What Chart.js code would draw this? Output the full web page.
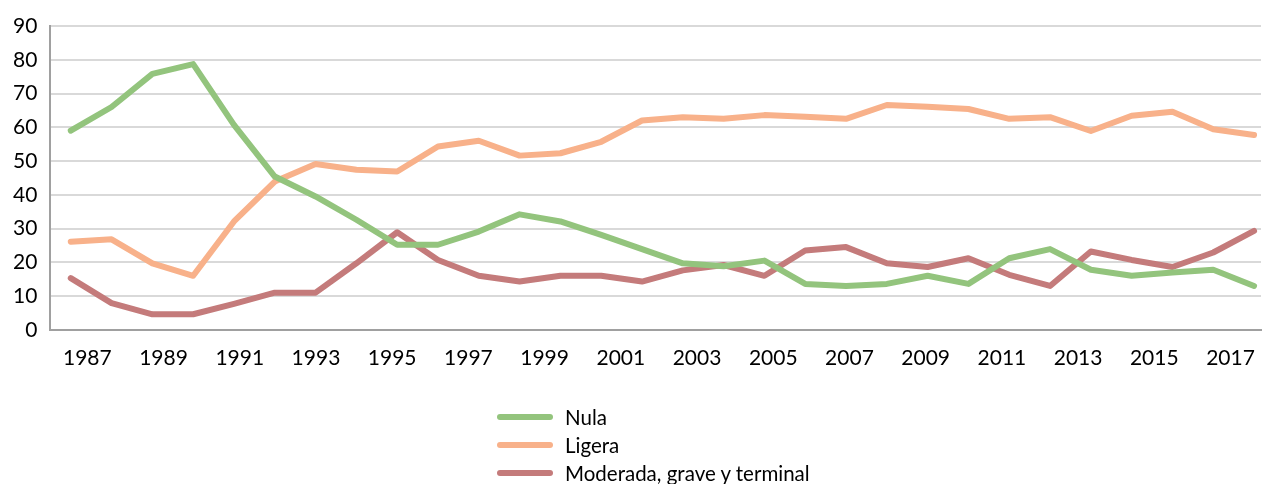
<!DOCTYPE html>
<html>
<head>
<meta charset="utf-8">
<script src="https://cdn.jsdelivr.net/npm/chart.js@4"></script>
<style>
  body { margin: 0; background: #fff; }
  #wrap { position: relative; width: 1264px; height: 484px; }
  #legend { position: absolute; left: 497px; top: 403px; font-family: Lato, sans-serif; font-size: 20.5px; color: #000; }
  #legend div.item { display: flex; align-items: center; height: 28px; }
  #legend span.swatch { display: inline-block; width: 56px; height: 6px; border-radius: 3px; margin-right: 12px; }
</style>
</head>
<body>
<div id="wrap">
  <canvas id="myChart" width="1264" height="484"></canvas>
  <div id="legend"></div>
</div>
<script>
'use strict';

// tick labels on the bottom axis
let yearTicks = [1987, 1989, 1991, 1993, 1995, 1997, 1999, 2001, 2003, 2005, 2007, 2009, 2011, 2013, 2015, 2017];

// series values (30 points each)
let nula = [59, 66, 75.8, 78.7, 60.7, 45.4, 39.5, 32.6, 25.2, 25.2,
  29.1, 34.2, 32.1, 28.1, 23.9, 19.7, 18.8, 20.5, 13.6, 13.0,
  13.6, 16.0, 13.6, 21.2, 23.9, 17.8, 16.0, 17.0, 17.8, 13.0];
let ligera = [26.1, 26.8, 19.7, 16.0, 32.1, 43.9, 49.1, 47.4, 46.9, 54.3,
  56.0, 51.6, 52.3, 55.7, 62.0, 63.0, 62.5, 63.6, 63.1, 62.5,
  66.6, 66.1, 65.4, 62.5, 63.0, 58.9, 63.4, 64.6, 59.4, 57.7];
let moderada = [15.3, 7.9, 4.6, 4.6, 7.7, 11.0, 11.0, 19.7, 28.9, 20.7,
  16.0, 14.3, 16.0, 16.0, 14.3, 17.6, 19.2, 16.0, 23.5, 24.5,
  19.7, 18.6, 21.2, 16.3, 13.0, 23.2, 20.7, 18.6, 22.9, 29.3];

let seriesNames = ['Nula', 'Ligera', 'Moderada, grave y terminal'];
let seriesColors = ['#93c47d', '#f8b18a', '#c47b7b'];

function toPoints(arr) {
  return arr.map((v, i) => ({ x: i, y: v }));
}

let ctx = document.getElementById('myChart');
let fontFamily = 'Lato, sans-serif';

let datasets = [nula, ligera, moderada].map((arr, i) => ({
  label: seriesNames[i],
  data: toPoints(arr),
  borderColor: seriesColors[i],
  backgroundColor: seriesColors[i],
  borderWidth: 6,
  pointRadius: 0,
  tension: 0,
  borderCapStyle: 'round',
  borderJoinStyle: 'round',
  xAxisID: 'x',
  yAxisID: 'y'
}));

new Chart(ctx, {
  type: 'line',
  data: { datasets: datasets },
  options: {
    responsive: false,
    animation: false,
    layout: { padding: { left: 0, right: 3, top: 26, bottom: 105 } },
    plugins: {
      legend: { display: false },
      tooltip: { enabled: false }
    },
    scales: {
      x: {
        type: 'linear',
        display: false,
        min: -0.5,
        max: 29.17
      },
      xYear: {
        type: 'linear',
        position: 'bottom',
        min: 1986.03,
        max: 2017.8,
        afterBuildTicks: function(axis) {
          axis.ticks = yearTicks.map(v => ({ value: v }));
        },
        grid: { display: false },
        border: { color: '#a0a0a0', width: 2 },
        ticks: {
          autoSkip: false,
          maxRotation: 0,
          padding: 8,
          color: '#000',
          font: { family: fontFamily, size: 21 },
          callback: function(value) { return String(value); }
        }
      },
      y: {
        min: 0,
        max: 90,
        grid: { color: '#d9d9d9', lineWidth: 2, drawTicks: false },
        border: { color: '#a0a0a0', width: 2 },
        ticks: {
          stepSize: 10,
          padding: 13,
          color: '#000',
          font: { family: fontFamily, size: 21 }
        }
      }
    }
  }
});

// legend built from the series names / colours
let legendBox = document.getElementById('legend');
seriesNames.forEach((name, i) => {
  let item = document.createElement('div');
  item.className = 'item';
  let swatch = document.createElement('span');
  swatch.className = 'swatch';
  swatch.style.background = seriesColors[i];
  let label = document.createElement('span');
  label.textContent = name;
  item.appendChild(swatch);
  item.appendChild(label);
  legendBox.appendChild(item);
});
</script>
</body>
</html>
